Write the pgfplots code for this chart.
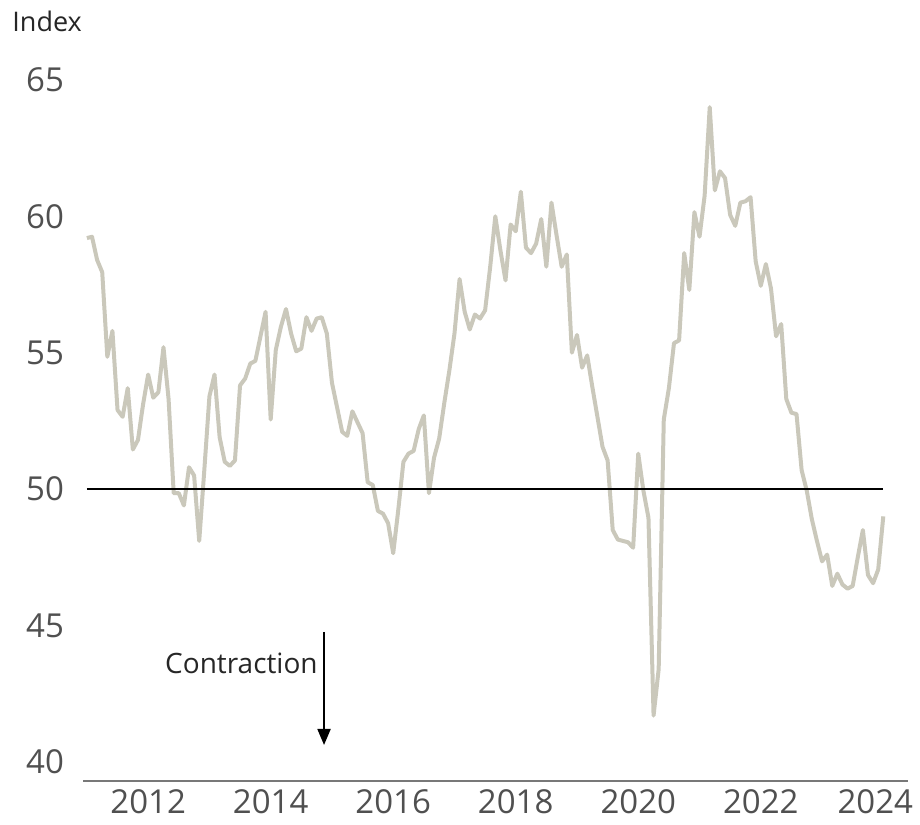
\documentclass[border=0pt]{standalone}
\usepackage{pgfplots}
\pgfplotsset{compat=1.18}
\usepackage{fontspec}
\setmainfont{Open Sans}
\usetikzlibrary{arrows.meta}
\definecolor{pmiline}{RGB}{202,200,187}
\definecolor{ticktxt}{RGB}{80,80,80}
\definecolor{baseax}{RGB}{120,120,120}

\begin{document}
\begin{tikzpicture}
\begin{axis}[
  name=ax,
  scale only axis,
  width=412.5pt, height=364.2pt,
  xmin=-0.764, xmax=160.84,
  ymin=39.3, ymax=66,
  axis x line*=bottom, axis y line*=left,
  y axis line style={draw=none},
  x axis line style={draw=baseax, line width=0.8pt},
  major tick length=0pt,
  xtick={12,36,60,84,108,132},
  xticklabels={2012,2014,2016,2018,2020,2022},
  extra x ticks={156},
  extra x tick labels={2024},
  extra x tick style={xticklabel style={xshift=-4pt}},
  ytick={40,45,50,55,60,65},
  xticklabel style={font=\fontsize{16.5}{18}\selectfont, text=ticktxt, yshift=-1pt},
  yticklabel style={font=\fontsize{16.5}{18}\selectfont, text=ticktxt, xshift=-6pt,
    /pgf/number format/assume math mode=true},
  clip=false,
]
\addplot[color=pmiline, line width=2pt, line join=round] coordinates {
 (0,59.2)(1,59.25)(2,58.4)(3,57.95)(4,54.85)(5,55.8)(6,52.9)(7,52.65)(8,53.7)(9,51.45)(10,51.8)(11,53.1)
 (12,54.2)(13,53.35)(14,53.55)(15,55.2)(16,53.3)(17,49.85)(18,49.85)(19,49.4)(20,50.8)(21,50.5)(22,48.1)(23,50.7)
 (24,53.4)(25,54.2)(26,51.9)(27,51.0)(28,50.85)(29,51.05)(30,53.8)(31,54.05)(32,54.6)(33,54.7)(34,55.6)(35,56.5)
 (36,52.55)(37,55.1)(38,55.95)(39,56.6)(40,55.7)(41,55.05)(42,55.15)(43,56.3)(44,55.8)(45,56.25)(46,56.3)(47,55.7)
 (48,53.9)(49,53.0)(50,52.1)(51,51.95)(52,52.85)(53,52.45)(54,52.05)(55,50.25)(56,50.15)(57,49.2)(58,49.1)(59,48.75)
 (60,47.65)(61,49.25)(62,51.0)(63,51.3)(64,51.4)(65,52.2)(66,52.7)(67,49.85)(68,51.15)(69,51.85)(70,53.15)(71,54.35)
 (72,55.7)(73,57.7)(74,56.5)(75,55.85)(76,56.4)(77,56.25)(78,56.55)(79,58.15)(80,60.0)(81,58.75)(82,57.65)(83,59.7)
 (84,59.45)(85,60.9)(86,58.85)(87,58.65)(88,59.0)(89,59.9)(90,58.15)(91,60.5)(92,59.3)(93,58.15)(94,58.6)(95,55.0)
 (96,55.65)(97,54.45)(98,54.9)(99,53.75)(100,52.65)(101,51.55)(102,51.05)(103,48.5)(104,48.15)(105,48.1)(106,48.05)(107,47.85)
 (108,51.3)(109,49.95)(110,48.95)(111,41.7)(112,43.4)(113,52.55)(114,53.7)(115,55.35)(116,55.45)(117,58.65)(118,57.3)(119,60.15)
 (120,59.25)(121,60.75)(122,64.0)(123,60.95)(124,61.65)(125,61.4)(126,60.05)(127,59.65)(128,60.5)(129,60.55)(130,60.7)(131,58.35)
 (132,57.45)(133,58.25)(134,57.35)(135,55.6)(136,56.05)(137,53.3)(138,52.8)(139,52.75)(140,50.7)(141,49.95)(142,48.9)(143,48.1)
 (144,47.35)(145,47.6)(146,46.45)(147,46.9)(148,46.5)(149,46.35)(150,46.45)(151,47.5)(152,48.5)(153,46.85)(154,46.55)(155,47.05)
 (156,49.0)
};
\addplot[black, line width=1pt] coordinates {(0,50)(156,50)};
\draw[black, line width=1pt, -{Triangle[length=8pt,width=6.5pt]}] (axis cs:46.45,44.77) -- (axis cs:46.45,40.62);
\node[anchor=base east, font=\fontsize{14}{16}\selectfont, text=black!85, inner sep=0pt] at (axis cs:45.28,43.23) {Contraction};
\end{axis}
\node[anchor=base west, font=\fontsize{13.5}{15}\selectfont, text=black!85, inner sep=0pt] at ([shift={(-35.5pt,374.5pt)}]ax.south west) {Index};
\path ([shift={(-41.5pt,-21.5pt)}]ax.south west) rectangle ++(460pt,412pt);
\end{tikzpicture}
\end{document}
